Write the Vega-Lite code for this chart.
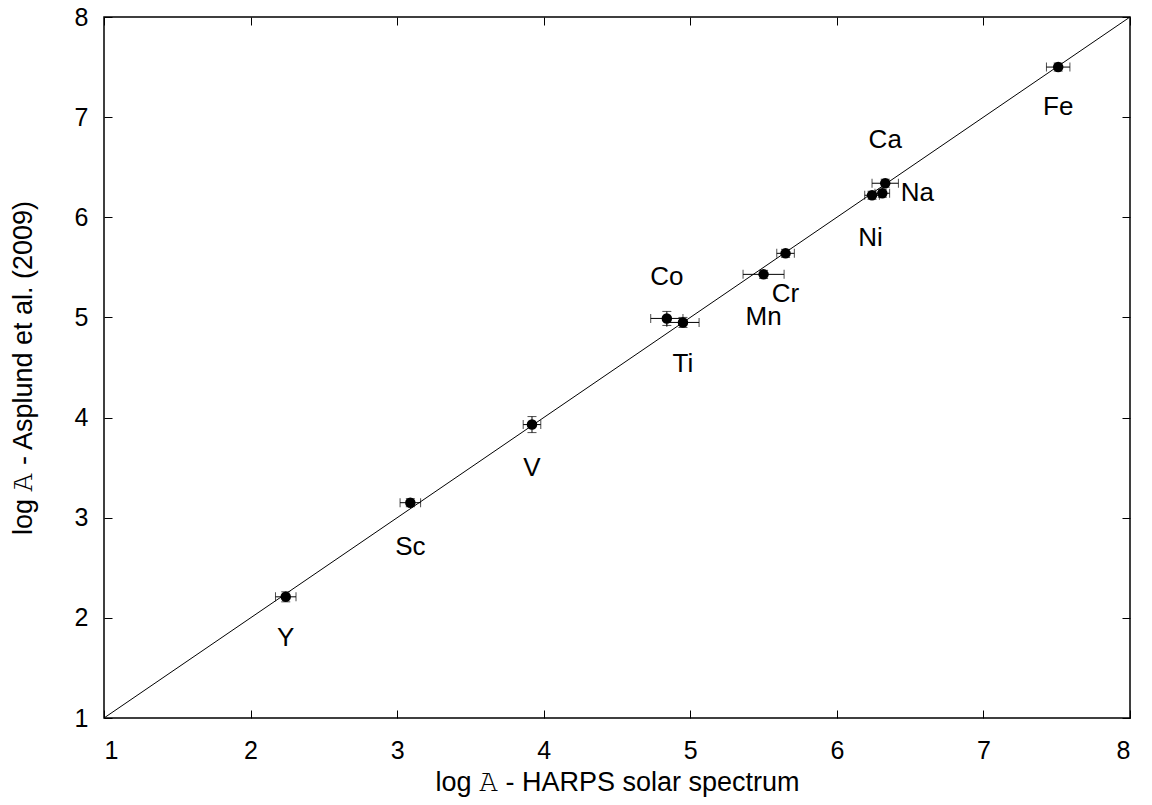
{
  "$schema": "https://vega.github.io/schema/vega-lite/v6.json",
  "width": 1026,
  "height": 701,
  "autosize": {"type": "none"},
  "padding": {"left": 104, "top": 17, "right": 22, "bottom": 87},
  "background": "white",
  "config": {
    "view": {"stroke": "black", "strokeWidth": 1.5},
    "font": "Liberation Sans",
    "axis": {
      "domain": false,
      "grid": false,
      "tickColor": "black",
      "tickSize": -8,
      "tickWidth": 1,
      "labelFont": "Liberation Sans",
      "labelFontSize": 25,
      "labelColor": "black",
      "titleFont": "Liberation Sans",
      "titleFontSize": 27,
      "titleFontWeight": "normal",
      "titleColor": "black"
    }
  },
  "datasets": {
    "pts": [
      {"el": "Y", "x": 2.24, "y": 2.21, "xerr": 0.07, "yerr": 0.05, "lx": 2.24, "ly": 1.80},
      {"el": "Sc", "x": 3.09, "y": 3.15, "xerr": 0.07, "yerr": 0.04, "lx": 3.09, "ly": 2.71},
      {"el": "V", "x": 3.92, "y": 3.93, "xerr": 0.06, "yerr": 0.08, "lx": 3.92, "ly": 3.50},
      {"el": "Co", "x": 4.84, "y": 4.99, "xerr": 0.11, "yerr": 0.07, "lx": 4.84, "ly": 5.40},
      {"el": "Ti", "x": 4.95, "y": 4.95, "xerr": 0.11, "yerr": 0.05, "lx": 4.95, "ly": 4.53},
      {"el": "Mn", "x": 5.50, "y": 5.43, "xerr": 0.14, "yerr": 0.04, "lx": 5.50, "ly": 5.00},
      {"el": "Cr", "x": 5.65, "y": 5.64, "xerr": 0.06, "yerr": 0.04, "lx": 5.65, "ly": 5.23},
      {"el": "Ni", "x": 6.24, "y": 6.22, "xerr": 0.05, "yerr": 0.04, "lx": 6.23, "ly": 5.79},
      {"el": "Na", "x": 6.31, "y": 6.24, "xerr": 0.05, "yerr": 0.04, "lx": 6.55, "ly": 6.24},
      {"el": "Ca", "x": 6.33, "y": 6.34, "xerr": 0.09, "yerr": 0.04, "lx": 6.33, "ly": 6.77},
      {"el": "Fe", "x": 7.51, "y": 7.50, "xerr": 0.08, "yerr": 0.04, "lx": 7.51, "ly": 7.10}
    ],
    "diag": [{"x": 1, "y": 1}, {"x": 8, "y": 8}]
  },
  "layer": [
    {
      "data": {"name": "diag"},
      "mark": {"type": "line", "color": "black", "strokeWidth": 1},
      "encoding": {
        "x": {"field": "x", "type": "quantitative", "scale": {"domain": [1, 8], "nice": false, "zero": false},
              "axis": {"orient": "bottom", "values": [1,2,3,4,5,6,7,8], "labelPadding": 28, "title": "log 𝙰 - HARPS solar spectrum", "titlePadding": 6}},
        "y": {"field": "y", "type": "quantitative", "scale": {"domain": [1, 8], "nice": false, "zero": false},
              "axis": {"orient": "left", "values": [1,2,3,4,5,6,7,8], "labelPadding": 24, "title": "log 𝙰 - Asplund et al. (2009)", "titlePadding": 37}}
      }
    },
    {
      "data": {"name": "diag"},
      "mark": {"type": "point", "opacity": 0},
      "encoding": {
        "x": {"field": "x", "type": "quantitative", "axis": {"orient": "top", "values": [1,2,3,4,5,6,7,8], "labels": false, "title": null}},
        "y": {"field": "y", "type": "quantitative", "axis": {"orient": "right", "values": [1,2,3,4,5,6,7,8], "labels": false, "title": null}}
      }
    },
    {
      "data": {"name": "pts"},
      "transform": [
        {"calculate": "datum.x - datum.xerr", "as": "xlo"},
        {"calculate": "datum.x + datum.xerr", "as": "xhi"},
        {"calculate": "datum.y - datum.yerr", "as": "ylo"},
        {"calculate": "datum.y + datum.yerr", "as": "yhi"}
      ],
      "layer": [
        {
          "mark": {"type": "rule", "color": "black", "strokeWidth": 1},
          "encoding": {
            "x": {"field": "xlo", "type": "quantitative", "axis": null},
            "x2": {"field": "xhi"},
            "y": {"field": "y", "type": "quantitative", "axis": null}
          }
        },
        {
          "mark": {"type": "rule", "color": "black", "strokeWidth": 1},
          "encoding": {
            "y": {"field": "ylo", "type": "quantitative", "axis": null},
            "y2": {"field": "yhi"},
            "x": {"field": "x", "type": "quantitative", "axis": null}
          }
        },
        {
          "mark": {"type": "tick", "orient": "vertical", "color": "black", "size": 9, "thickness": 1},
          "encoding": {
            "x": {"field": "xlo", "type": "quantitative", "axis": null},
            "y": {"field": "y", "type": "quantitative", "axis": null}
          }
        },
        {
          "mark": {"type": "tick", "orient": "vertical", "color": "black", "size": 9, "thickness": 1},
          "encoding": {
            "x": {"field": "xhi", "type": "quantitative", "axis": null},
            "y": {"field": "y", "type": "quantitative", "axis": null}
          }
        },
        {
          "mark": {"type": "tick", "orient": "horizontal", "color": "black", "size": 9, "thickness": 1},
          "encoding": {
            "x": {"field": "x", "type": "quantitative", "axis": null},
            "y": {"field": "ylo", "type": "quantitative", "axis": null}
          }
        },
        {
          "mark": {"type": "tick", "orient": "horizontal", "color": "black", "size": 9, "thickness": 1},
          "encoding": {
            "x": {"field": "x", "type": "quantitative", "axis": null},
            "y": {"field": "yhi", "type": "quantitative", "axis": null}
          }
        },
        {
          "mark": {"type": "point", "filled": true, "color": "black", "opacity": 1, "size": 110},
          "encoding": {
            "x": {"field": "x", "type": "quantitative", "axis": null},
            "y": {"field": "y", "type": "quantitative", "axis": null}
          }
        },
        {
          "mark": {"type": "text", "fontSize": 26, "font": "Liberation Sans", "color": "black", "align": "center", "baseline": "middle"},
          "encoding": {
            "x": {"field": "lx", "type": "quantitative", "axis": null},
            "y": {"field": "ly", "type": "quantitative", "axis": null},
            "text": {"field": "el"}
          }
        }
      ]
    }
  ],
  "resolve": {"axis": {"x": "independent", "y": "independent"}}
}
